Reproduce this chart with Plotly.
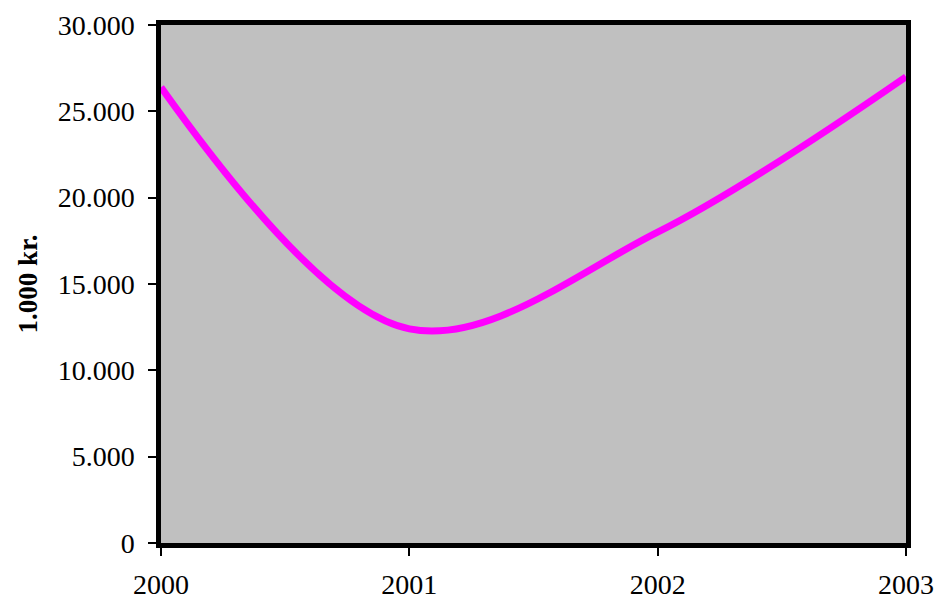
import plotly.graph_objects as go

# Annual amounts in thousands of kroner
years = [2000, 2001, 2002, 2003]
amounts = [26400, 12400, 18000, 27000]

y_ticks = [0, 5000, 10000, 15000, 20000, 25000, 30000]
y_tick_labels = ["0", "5.000", "10.000", "15.000", "20.000", "25.000", "30.000"]
x_tick_labels = ["2000", "2001", "2002", "2003"]

font_family = "Liberation Serif, Times New Roman, serif"

fig = go.Figure(
    go.Scatter(
        x=years,
        y=amounts,
        mode="lines",
        line=dict(color="#FF00FF", width=7, shape="spline", smoothing=1.0),
        showlegend=False,
    )
)

fig.update_layout(
    width=941,
    height=601,
    margin=dict(l=161, r=35, t=25, b=58),
    paper_bgcolor="white",
    plot_bgcolor="#C0C0C0",
    font=dict(family=font_family, size=28, color="black"),
)

fig.update_xaxes(
    range=[2000, 2003],
    tickmode="array",
    tickvals=years,
    ticktext=x_tick_labels,
    ticks="outside",
    ticklen=8,
    tickwidth=1.5,
    tickcolor="black",
    showgrid=False,
    zeroline=False,
    showline=True,
    linecolor="black",
    linewidth=4.5,
    mirror=True,
    ticklabelstandoff=5,
    automargin=False,
)

fig.update_yaxes(
    range=[0, 30000],
    tickmode="array",
    tickvals=y_ticks,
    ticktext=y_tick_labels,
    ticks="outside",
    ticklen=8,
    tickwidth=1.5,
    tickcolor="black",
    showgrid=False,
    zeroline=False,
    showline=True,
    linecolor="black",
    linewidth=4.5,
    mirror=True,
    ticklabelstandoff=8,
    automargin=False,
    title=dict(
        text="<b>1.000 kr.</b>",
        font=dict(family=font_family, size=27),
        standoff=14,
    ),
)

fig.write_html("out.html")
